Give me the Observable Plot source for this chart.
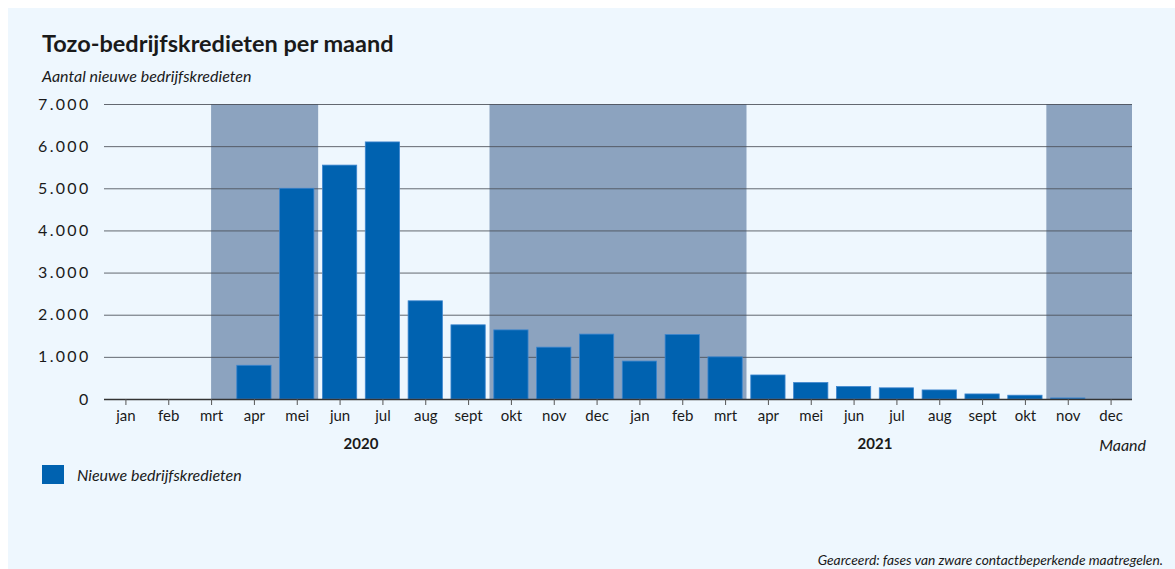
<!DOCTYPE html>
<html><head><meta charset="utf-8">
<script src="https://cdn.jsdelivr.net/npm/d3@7"></script>
<script src="https://cdn.jsdelivr.net/npm/@observablehq/plot@0.6"></script>
<style>
body{margin:0;background:#fff;font-family:Lato,"Noto Sans",sans-serif;color:#1a1a1a;}
#panel{position:absolute;left:8px;top:8px;width:1167px;height:561px;background:#eef7fe;overflow:hidden;}
#title{position:absolute;left:34px;top:22px;font-size:23.5px;font-weight:700;line-height:26px;white-space:nowrap;}
#subtitle{position:absolute;left:34px;top:58px;font-size:16px;font-style:italic;line-height:20px;white-space:nowrap;}
#chart{position:absolute;left:0;top:82px;}
#legend{position:absolute;left:34px;top:457px;display:flex;align-items:center;font-size:16px;font-style:italic;}
#legend .sw{width:22px;height:19px;background:#0062b0;margin-right:13px;}
#caption{position:absolute;right:12px;top:543px;font-size:13.8px;font-style:italic;white-space:nowrap;}
svg{font-family:Lato,"Noto Sans",sans-serif;}
g[aria-label="y-axis tick label"] text{letter-spacing:2.3px;}
</style></head>
<body>
<div id="panel">
  <div id="title">Tozo-bedrijfskredieten per maand</div>
  <div id="subtitle">Aantal nieuwe bedrijfskredieten</div>
  <div id="chart"></div>
  <div id="legend"><div class="sw"></div><span>Nieuwe bedrijfskredieten</span></div>
  <div id="caption">Gearceerd: fases van zware contactbeperkende maatregelen.</div>
</div>
<script>
const monthLabels = ["jan","feb","mrt","apr","mei","jun","jul","aug","sept","okt","nov","dec"];
const years = [2020, 2021];
const values2020 = [0, 0, 0, 800, 5000, 5550, 6100, 2330, 1760, 1640, 1230, 1540];
const values2021 = [900, 1530, 1000, 570, 390, 295, 265, 215, 120, 90, 25, 0];
const yTicks = [0, 1000, 2000, 3000, 4000, 5000, 6000, 7000];
// shaded periods: start key, start at band centre?, end key (inclusive)
const shadePeriods = [
  {start: "2020-03", fromCenter: true, end: "2020-05"},
  {start: "2020-10", fromCenter: false, end: "2021-03"},
  {start: "2021-11", fromCenter: false, end: "2021-12"}
];
const barColor = "#0062b0";
const shadeColor = "#8ca3bf";

const key = (y, m) => `${y}-${String(m + 1).padStart(2, "0")}`;
const data = [];
[values2020, values2021].forEach((vals, yi) => vals.forEach((v, m) => data.push({key: key(years[yi], m), year: years[yi], month: m, value: v})));
const domain = data.map(d => d.key);
const nl = d3.formatLocale({decimal: ",", thousands: ".", grouping: [3], currency: ["€", ""]});
const fmt = nl.format(",d");

const shading = (index, {x, y}) => {
  const g = d3.create("svg:g");
  const bw = x.bandwidth(), gap = x.step() - bw;
  for (const p of shadePeriods) {
    const x1 = p.fromCenter ? x(p.start) + bw / 2 : x(p.start) - gap / 2;
    const x2 = x(p.end) + bw + gap / 2;
    g.append("rect").attr("x", x1).attr("width", x2 - x1)
      .attr("y", y(yTicks[yTicks.length - 1])).attr("height", y(0) - y(yTicks[yTicks.length - 1]))
      .attr("fill", shadeColor);
  }
  return g.node();
};

const yearLabels = (index, {x, y}, values, dims) => {
  const g = d3.create("svg:g").attr("font-weight", 700).attr("font-size", 15).attr("fill", "#1a1a1a").attr("text-anchor", "middle");
  const bw = x.bandwidth(), gap = x.step() - bw;
  for (const yr of years) {
    const a = x(key(yr, 0)) - gap / 2, b = x(key(yr, 11)) + bw + gap / 2;
    g.append("text").attr("x", (a + b) / 2).attr("y", y(0) + 45).attr("dy", "0.35em").text(yr);
  }
  g.append("text").attr("x", dims.width - dims.marginRight + 14).attr("y", y(0) + 46).attr("dy", "0.35em")
    .attr("text-anchor", "end").attr("font-weight", 400).attr("font-style", "italic").attr("font-size", 16).text("Maand");
  return g.node();
};

const chart = Plot.plot({
  width: 1167, height: 370,
  marginLeft: 96, marginRight: 43, marginTop: 14, marginBottom: 61,
  style: {background: "transparent", fontSize: "15px", color: "#1a1a1a"},
  x: {type: "band", domain, paddingInner: 0.2, paddingOuter: 0.1, round: false, label: null},
  y: {domain: [0, 7000], label: null},
  marks: [
    shading,
    Plot.gridY(yTicks.filter(t => t > 0), {stroke: "#4a4f57", strokeOpacity: 0.85, strokeWidth: 1}),
    Plot.barY(data, {x: "key", y: "value", fill: barColor, stroke: "#3d86cf", strokeWidth: 0.8}),
    Plot.ruleY([0], {stroke: "#333", strokeWidth: 1.5}),
    Plot.axisY({ticks: yTicks, tickFormat: fmt, tickSize: 0, tickPadding: 14, fontSize: 16, label: null}),
    Plot.axisX({tickFormat: k => monthLabels[+k.slice(5) - 1], tickSize: 6, tickPadding: 5, fontSize: 15, stroke: "#555", label: null}),
    yearLabels
  ]
});
document.getElementById("chart").append(chart);
</script>
</body></html>
